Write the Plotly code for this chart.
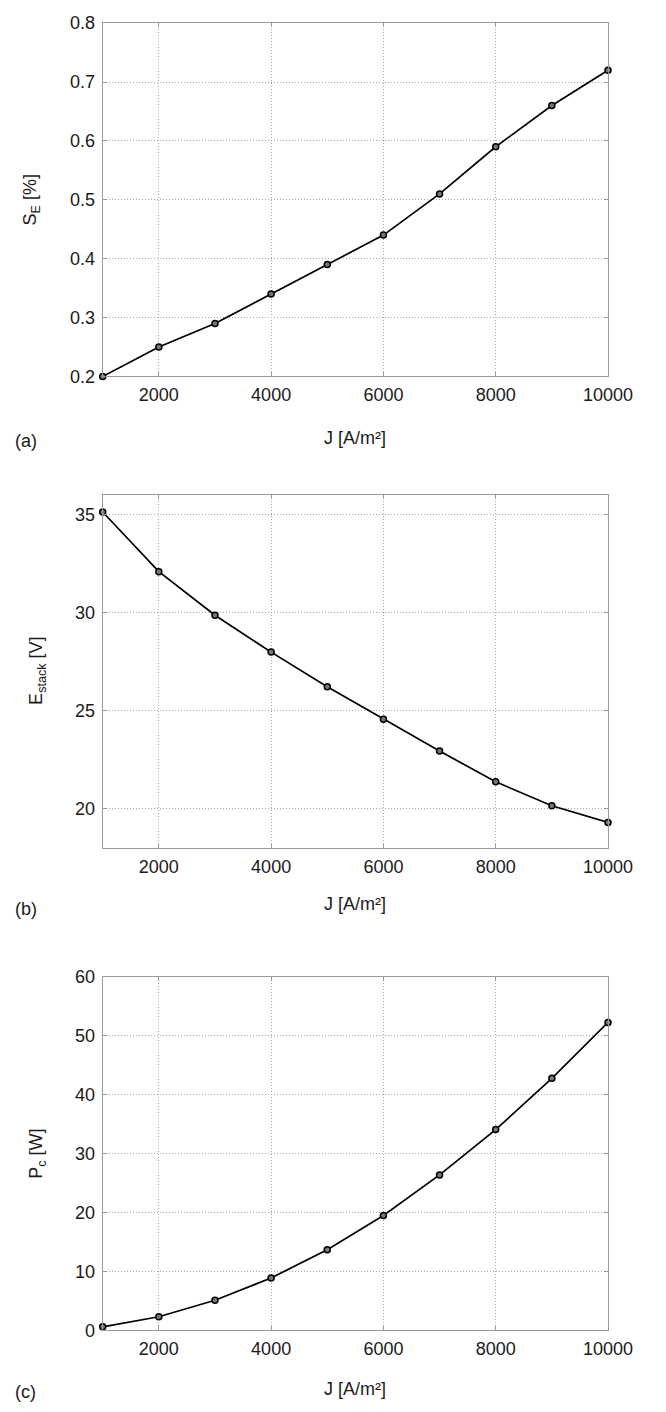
import plotly.graph_objects as go

# ---------------- data ----------------
J = [1000, 2000, 3000, 4000, 5000, 6000, 7000, 8000, 9000, 10000]
S_E = [0.20, 0.25, 0.29, 0.34, 0.39, 0.44, 0.51, 0.59, 0.66, 0.72]
E_stack = [35.12, 32.08, 29.86, 27.98, 26.22, 24.56, 22.94, 21.37, 20.15, 19.30]
P_c = [0.6, 2.3, 5.1, 8.9, 13.7, 19.5, 26.4, 34.1, 42.8, 52.3]

x_ticks = [2000, 4000, 6000, 8000, 10000]
ya_ticks = [0.2, 0.3, 0.4, 0.5, 0.6, 0.7, 0.8]
yb_ticks = [20, 25, 30, 35]
yc_ticks = [0, 10, 20, 30, 40, 50, 60]

y_titles = ["S<sub>E</sub> [%]", "E<sub>stack</sub> [V]", "P<sub>c</sub> [W]"]
x_title = "J [A/m\u00b2]"
panel_labels = ["(a)", "(b)", "(c)"]

# ---------------- layout geometry (pixels) ----------------
W, H = 666, 1412
x_left, x_right = 106.7, 631.7
panels = [  # (top, bottom) pixel
    (13.3, 371.7),
    (491.7, 850.0),
    (981.0, 1339.3),
]
y_ranges = [[0.2, 0.8], [18, 36], [0, 60]]
y_tickvals = [ya_ticks, yb_ticks, yc_ticks]
y_fmt = [".1f", "d", "d"]
series = [S_E, E_stack, P_c]
xtitle_y = [434, 907, 1399]
plabel_y = [437, 911.7, 1401.7]
ytitle_x = [33, 39, 39.5]

FONT = "Liberation Sans, Arial, Helvetica, sans-serif"
TXT = "#1a1a1a"
FS = 18

fig = go.Figure()
layout = dict(
    width=W, height=H,
    margin=dict(l=0, r=0, t=0, b=0),
    paper_bgcolor="white", plot_bgcolor="white",
    showlegend=False,
    font=dict(family=FONT, size=FS, color=TXT),
)
annotations = []

for i in range(3):
    n = "" if i == 0 else str(i + 1)
    xa = "x" + n
    ya = "y" + n
    top, bot = panels[i]
    fig.add_trace(go.Scatter(
        x=J, y=series[i], xaxis=xa, yaxis=ya,
        mode="lines+markers",
        line=dict(color="black", width=1.7),
        marker=dict(symbol="circle", size=6, color="#777777",
                    line=dict(width=1.5, color="black")),
        cliponaxis=False,
    ))
    common = dict(
        showline=True, linecolor="#9a9a9a", linewidth=1, mirror="ticks",
        ticks="inside", ticklen=4, tickcolor="#9a9a9a", tickwidth=1,
        showgrid=True, gridcolor="#a8a8a8", gridwidth=1, griddash="1px,2px",
        zeroline=False,
        tickfont=dict(family=FONT, size=FS, color=TXT),
    )
    layout["xaxis" + n] = dict(
        common,
        domain=[x_left / W, x_right / W],
        range=[1000, 10000],
        tickmode="array", tickvals=x_ticks,
        ticktext=[str(v) for v in x_ticks],
        anchor=ya,
        ticklabelstandoff=2,
    )
    layout["yaxis" + n] = dict(
        common,
        domain=[1 - bot / H, 1 - top / H],
        range=y_ranges[i],
        tickmode="array", tickvals=y_tickvals[i],
        tickformat=y_fmt[i],
        anchor=xa,
        ticklabelstandoff=3,
    )
    annotations.append(dict(
        text=x_title, xref="paper", yref="paper",
        x=(x_left + x_right) / 2 / W, y=1 - xtitle_y[i] / H,
        xanchor="center", yanchor="middle", showarrow=False,
        font=dict(family=FONT, size=FS, color=TXT),
    ))
    annotations.append(dict(
        text=panel_labels[i], xref="paper", yref="paper",
        x=27 / W, y=1 - plabel_y[i] / H,
        xanchor="center", yanchor="middle", showarrow=False,
        font=dict(family=FONT, size=FS, color=TXT),
    ))
    annotations.append(dict(
        text=y_titles[i], xref="paper", yref="paper",
        x=ytitle_x[i] / W, y=1 - (top + bot) / 2 / H,
        xanchor="center", yanchor="middle", showarrow=False, textangle=-90,
        font=dict(family=FONT, size=FS, color=TXT),
    ))

layout["annotations"] = annotations
fig.update_layout(**layout)
fig.write_html("out.html")
